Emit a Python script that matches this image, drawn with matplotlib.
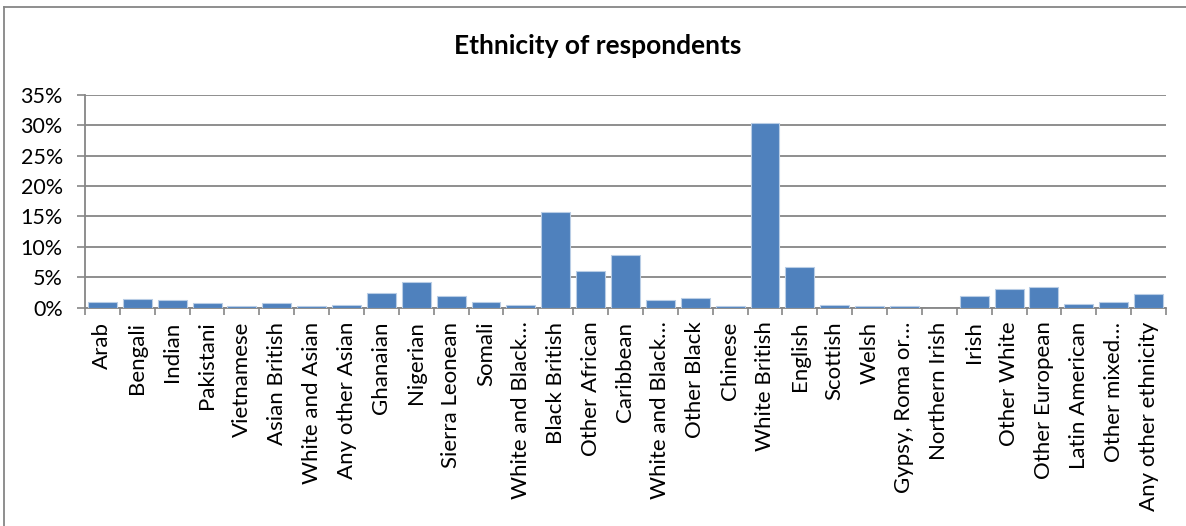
import matplotlib
matplotlib.use("Agg")
import matplotlib.pyplot as plt
from matplotlib.lines import Line2D
from matplotlib.ticker import MultipleLocator, FuncFormatter

plt.rcParams['font.family'] = ['Lato', 'DejaVu Sans']

categories = [
    "Arab", "Bengali", "Indian", "Pakistani", "Vietnamese", "Asian British",
    "White and Asian", "Any other Asian", "Ghanaian", "Nigerian",
    "Sierra Leonean", "Somali", "White and Black\u2026", "Black British",
    "Other African", "Caribbean", "White and Black\u2026", "Other Black",
    "Chinese", "White British", "English", "Scottish", "Welsh",
    "Gypsy, Roma or\u2026", "Northern Irish", "Irish", "Other White",
    "Other European", "Latin American", "Other mixed\u2026",
    "Any other ethnicity",
]
share_pct = [
    1.0, 1.4, 1.2, 0.8, 0.35, 0.8,
    0.35, 0.45, 2.35, 4.3,
    1.9, 0.9, 0.45, 15.7,
    6.1, 8.6, 1.2, 1.6,
    0.27, 30.3, 6.7, 0.45, 0.35,
    0.27, 0.0, 2.0, 3.1,
    3.4, 0.55, 1.0,
    2.25,
]

W, H = 1186, 526
fig = plt.figure(figsize=(W / 100, H / 100), dpi=100)
ax = fig.add_axes([85 / W, 1 - 307.7 / H, (1166 - 85) / W, (307.7 - 94.7) / H])

x = list(range(len(categories)))
ax.bar(x, share_pct, width=0.83, color="#4F81BD", edgecolor="#B9CDE5",
       linewidth=0.8, zorder=3)

ax.set_xlim(-0.5, len(categories) - 0.5)
ax.set_ylim(0, 35)
ax.yaxis.set_major_locator(MultipleLocator(5))
ax.yaxis.set_major_formatter(FuncFormatter(lambda v, p: f"{int(round(v))}%"))
ax.grid(axis="y", color="#868686", linewidth=1.3, zorder=0)

ax.set_xticks(x)
ax.set_xticklabels(categories, rotation=90, fontsize=16, va="top")
ax.set_xticks([i - 0.5 for i in range(len(categories) + 1)], minor=True)
ax.tick_params(axis="x", which="major", length=0, pad=10)
ax.tick_params(axis="x", which="minor", length=5, width=1.2, color="#868686",
               direction="out")
ax.tick_params(axis="y", length=6, width=1.2, color="#868686", labelsize=15.5,
               pad=10)

for side in ("top", "right"):
    ax.spines[side].set_visible(False)
for side in ("left", "bottom"):
    ax.spines[side].set_color("#868686")
    ax.spines[side].set_linewidth(1.3)

fig.text(598 / W, 1 - 46 / H, "Ethnicity of respondents", ha="center",
         va="center", fontsize=19, fontweight="bold")

# chart area frame
fig.add_artist(Line2D([4 / W, 4 / W], [0, 1 - 6.5 / H], transform=fig.transFigure,
                      color="#868686", linewidth=1.3))
fig.add_artist(Line2D([4 / W, 1], [1 - 6.5 / H, 1 - 6.5 / H],
                      transform=fig.transFigure, color="#868686", linewidth=1.3))

fig.savefig("out.png", dpi=100)
